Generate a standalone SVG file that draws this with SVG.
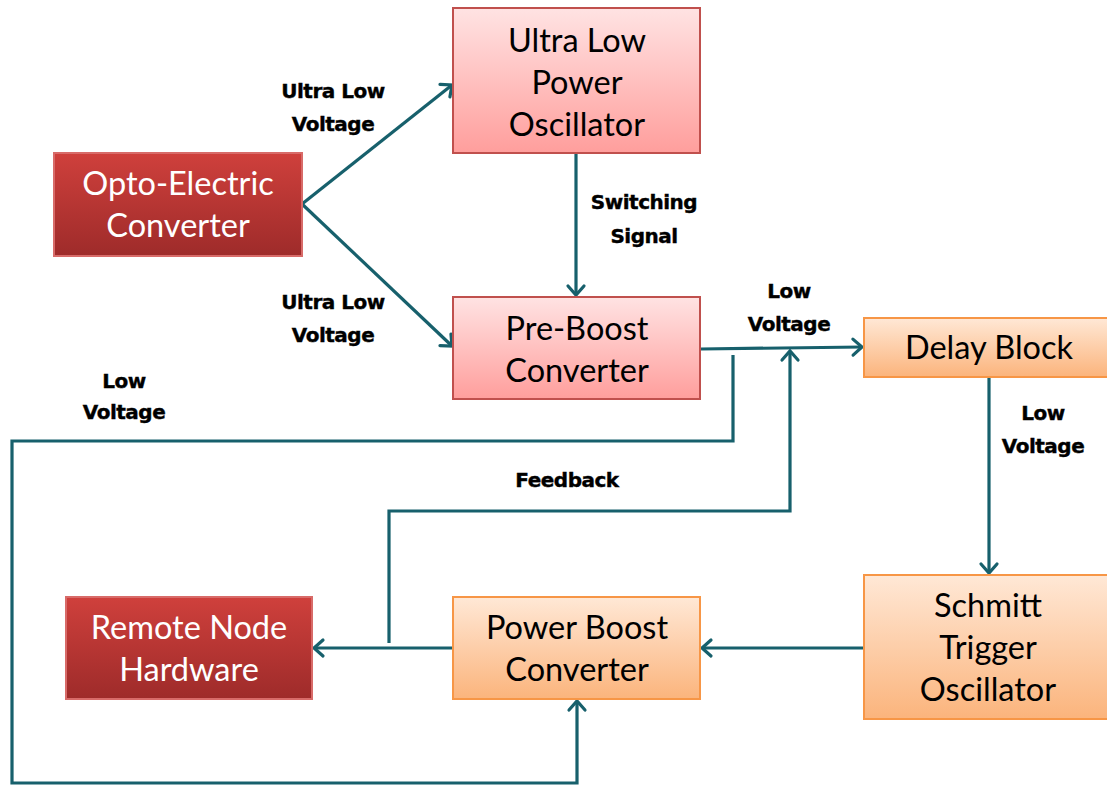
<svg xmlns="http://www.w3.org/2000/svg" width="1107" height="787" viewBox="0 0 1107 787">
<defs>
<linearGradient id="gDark" x1="0" y1="0" x2="0" y2="1"><stop offset="0" stop-color="#CF403C"/><stop offset="1" stop-color="#9E2B2A"/></linearGradient>
<linearGradient id="gPink" x1="0" y1="0" x2="0" y2="1"><stop offset="0" stop-color="#FFE3E3"/><stop offset="1" stop-color="#FF9E9C"/></linearGradient>
<linearGradient id="gOrange" x1="0" y1="0" x2="0" y2="1"><stop offset="0" stop-color="#FFE8D6"/><stop offset="1" stop-color="#FBB47C"/></linearGradient>
<marker id="arr" markerUnits="userSpaceOnUse" viewBox="-14 -10 18 20" markerWidth="18" markerHeight="20" refX="0" refY="0" orient="auto" overflow="visible">
<path d="M-9,-8 L0,0 L-9,8" fill="none" stroke="#17606C" stroke-width="3.2" stroke-linecap="round" stroke-linejoin="miter"/>
</marker>
</defs>
<style>
.dark{fill:url(#gDark);stroke:#D86B69;stroke-width:2}
.pink{fill:url(#gPink);stroke:#C0504D;stroke-width:2}
.orange{fill:url(#gOrange);stroke:#F79646;stroke-width:2}
.t{font-family:Lato,"Liberation Sans",sans-serif;font-size:32.5px;text-anchor:middle}
.tw{fill:#FFFFFF}
.tb{fill:#000000}
.lbl{font-family:"DejaVu Sans",sans-serif;font-weight:bold;font-size:20px;text-anchor:middle;fill:#000;letter-spacing:-0.5px;stroke:#000;stroke-width:0.4px}
.c{fill:none;stroke:#17606C;stroke-width:3.2}
.ca{fill:none;stroke:#17606C;stroke-width:3.2;marker-end:url(#arr)}
</style>
<rect width="1107" height="787" fill="#FFFFFF"/>
<g id="connectors">
<line class="ca" x1="302" y1="204" x2="452" y2="85"/>
<line class="ca" x1="302" y1="204" x2="452" y2="346"/>
<line class="ca" x1="576" y1="154" x2="576" y2="295"/>
<line class="ca" x1="701" y1="349" x2="862" y2="347"/>
<polyline class="ca" points="733,355 733,441 12,441 12,783 577,783 577,701"/>
<polyline class="ca" points="389,643 389,511 790,511 790,351"/>
<line class="ca" x1="989" y1="378" x2="989" y2="573"/>
<line class="ca" x1="864" y1="648" x2="702" y2="648"/>
<line class="ca" x1="453" y1="648" x2="314" y2="648"/>
</g>
<g id="labels">
<text class="lbl" x="333" y="98">Ultra Low</text>
<text class="lbl" x="333" y="131">Voltage</text>
<text class="lbl" x="333" y="309">Ultra Low</text>
<text class="lbl" x="333" y="342">Voltage</text>
<text class="lbl" x="644" y="209">Switching</text>
<text class="lbl" x="644" y="243">Signal</text>
<text class="lbl" x="789" y="298">Low</text>
<text class="lbl" x="789" y="331">Voltage</text>
<text class="lbl" x="124" y="388">Low</text>
<text class="lbl" x="124" y="419">Voltage</text>
<text class="lbl" x="1043" y="420">Low</text>
<text class="lbl" x="1043" y="453">Voltage</text>
<text class="lbl" x="567" y="487">Feedback</text>
</g>
<g id="opto">
<rect class="dark" x="54" y="153" width="248" height="103"/>
<text class="t tw" x="178" y="195">Opto-Electric</text>
<text class="t tw" x="178" y="237">Converter</text>
</g>
<g id="ulpo">
<rect class="pink" x="453" y="8" width="247" height="145"/>
<text class="t tb" x="577" y="52">Ultra Low</text>
<text class="t tb" x="577" y="94">Power</text>
<text class="t tb" x="577" y="136">Oscillator</text>
</g>
<g id="preboost">
<rect class="pink" x="453" y="297" width="247" height="102"/>
<text class="t tb" x="577" y="340">Pre-Boost</text>
<text class="t tb" x="577" y="382">Converter</text>
</g>
<g id="delay">
<rect class="orange" x="864" y="318" width="250" height="59"/>
<text class="t tb" x="989" y="359">Delay Block</text>
</g>
<g id="schmitt">
<rect class="orange" x="864" y="575" width="250" height="144"/>
<text class="t tb" x="988" y="617">Schmitt</text>
<text class="t tb" x="988" y="659">Trigger</text>
<text class="t tb" x="988" y="701">Oscillator</text>
</g>
<g id="powerboost">
<rect class="orange" x="453" y="597" width="247" height="102"/>
<text class="t tb" x="577" y="639">Power Boost</text>
<text class="t tb" x="577" y="681">Converter</text>
</g>
<g id="remote">
<rect class="dark" x="66" y="597" width="246" height="102"/>
<text class="t tw" x="189" y="639">Remote Node</text>
<text class="t tw" x="189" y="681">Hardware</text>
</g>
</svg>
